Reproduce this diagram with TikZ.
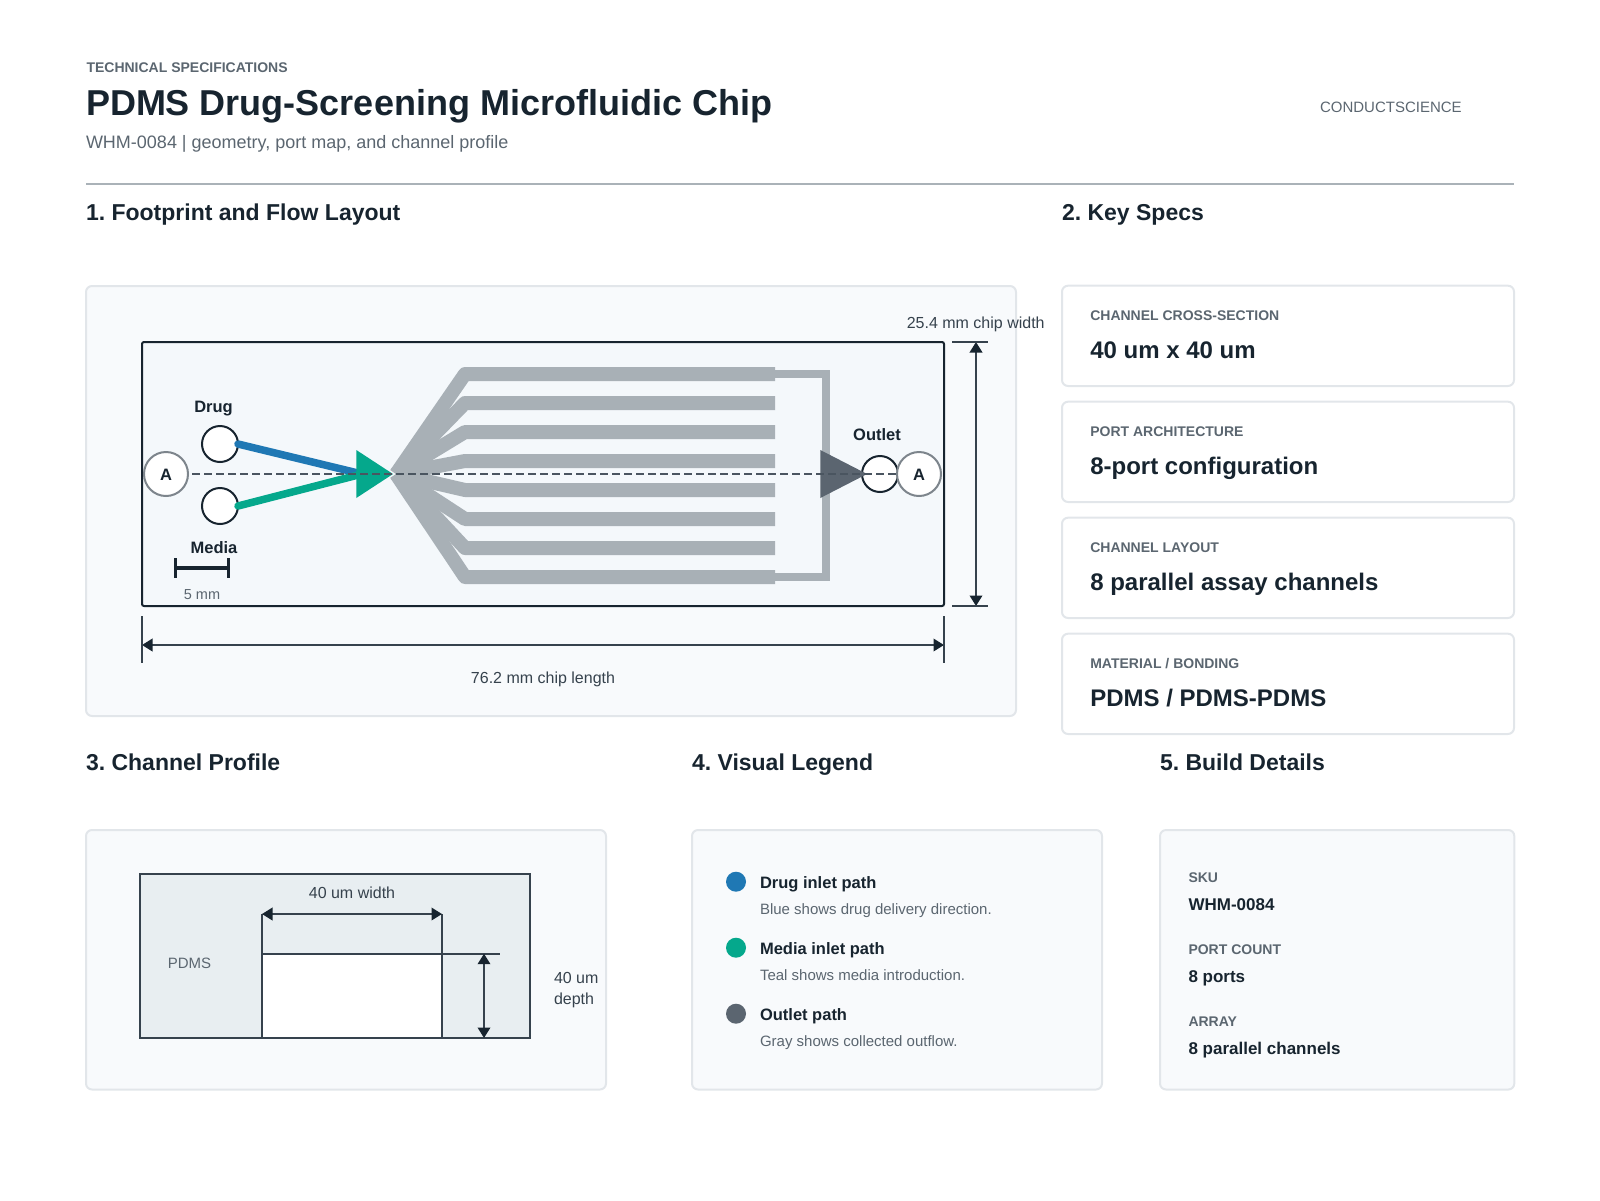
\documentclass[tikz,border=0pt]{standalone}
\usepackage{fontspec}
\setmainfont{Liberation Sans}
\frenchspacing
\usetikzlibrary{arrows.meta, positioning, calc}
\definecolor{colour_ink}{HTML}{17242F}
\definecolor{colour_dim}{HTML}{36424D}
\definecolor{colour_dash}{HTML}{4A5560}
\definecolor{colour_muted}{HTML}{5B6670}
\definecolor{colour_border}{HTML}{E2E6EA}
\definecolor{colour_panel}{HTML}{F8FAFC}
\definecolor{colour_chip}{HTML}{F4F8FB}
\definecolor{colour_pdms}{HTML}{E8EEF1}
\definecolor{colour_rule}{HTML}{AAB2B8}
\definecolor{colour_channel}{HTML}{A8B0B6}
\definecolor{colour_drug}{HTML}{1F78B4}
\definecolor{colour_media}{HTML}{05A88C}
\definecolor{colour_outlet}{HTML}{5B6570}
\definecolor{colour_section}{HTML}{7D858C}

\begin{document}
\begin{tikzpicture}
   [
      x=1pt, y=-1pt,
      every node/.style={inner sep=0pt, outer sep=0pt},
      panel/.style={draw=colour_border, fill=colour_panel, line width=2pt, rounded corners=6pt, anchor=north west},
      spec card/.style={draw=colour_border, fill=white, line width=2pt, rounded corners=6pt, minimum width=452pt, minimum height=100.3pt},
      spec label/.style={anchor=base west, text=colour_muted, font=\fontsize{14}{17}\selectfont\bfseries},
      spec value/.style={anchor=base west, text=colour_ink, font=\fontsize{24}{28}\selectfont\bfseries},
      section title/.style={anchor=base west, text=colour_ink, font=\fontsize{23}{28}\selectfont\bfseries},
      item title/.style={anchor=base west, text=colour_ink, font=\fontsize{16.5}{20}\selectfont\bfseries},
      item note/.style={anchor=base west, text=colour_muted, font=\fontsize{15}{18}\selectfont},
      build value/.style={anchor=base west, text=colour_ink, font=\fontsize{17}{20}\selectfont\bfseries},
      port label/.style={anchor=base, text=colour_ink, font=\fontsize{16.5}{20}\selectfont\bfseries},
      dim label/.style={anchor=base, text=colour_dim, font=\fontsize{16}{20}\selectfont},
      port/.style={circle, draw=colour_ink, fill=white, line width=2pt, minimum size=36pt},
      section mark/.style={circle, draw=colour_section, fill=white, line width=2pt, minimum size=44pt},
      channel/.style={line width=14pt, colour_channel, line join=round},
      bus/.style={line width=8pt, colour_channel, line join=miter},
      inlet/.style={line width=7.5pt, line cap=round},
      dim/.style={line width=2pt, colour_dim},
      dim arrow/.style={dim, {Triangle[length=10.5pt, width=12.5pt, color=colour_ink]}-{Triangle[length=10.5pt, width=12.5pt, color=colour_ink]}},
      legend dot/.style={circle, minimum size=20pt},
   ]

   \useasboundingbox (0,0) rectangle (1600,1200);

   % =======================================================
   % Header
   % =======================================================

   \node[spec label] (head_eyebrow) at (86.5,72) {TECHNICAL SPECIFICATIONS};
   \node[anchor=base west, text=colour_ink, font=\fontsize{36}{42}\selectfont\bfseries] (head_title) at (86,115.5) {PDMS Drug-Screening Microfluidic Chip};
   \node[anchor=base west, text=colour_muted, font=\fontsize{18}{22}\selectfont] (head_sub) at (86,148.3) {WHM-0084 | geometry, port map, and channel profile};
   \node[anchor=base west, text=colour_muted, font=\fontsize{15}{20}\selectfont] (head_brand) at (1320,112) {CONDUCTSCIENCE};

   \coordinate (rule_l) at (86,184);
   \coordinate (rule_r) at (1514,184);
   \draw[line width=2pt, colour_rule] (rule_l) -- (rule_r);

   % Section titles
   \node[section title] (title_layout) at (86,220) {1. Footprint and Flow Layout};
   \node[section title] (title_specs) at (1062,220) {2. Key Specs};
   \node[section title] (title_profile) at (86,770) {3. Channel Profile};
   \node[section title] (title_legend) at (692,770) {4. Visual Legend};
   \node[section title] (title_build) at (1160,770) {5. Build Details};

   % =======================================================
   % Panel 1: Footprint
   % =======================================================

   \node[panel, minimum width=930pt, minimum height=430pt] (panel_layout) at (86,286) {};
   \draw[line width=2pt, colour_ink, fill=colour_chip, rounded corners=2pt] (142,342) rectangle (944,606);

   % Channels
   \coordinate (fan) at (396,474);
   \draw[channel] (fan) -- (465,374) -- (775,374);
   \draw[channel] (fan) -- (465,403) -- (775,403);
   \draw[channel] (fan) -- (465,432) -- (775,432);
   \draw[channel] (fan) -- (465,461) -- (775,461);
   \draw[channel] (fan) -- (465,490) -- (775,490);
   \draw[channel] (fan) -- (465,519) -- (775,519);
   \draw[channel] (fan) -- (465,548) -- (775,548);
   \draw[channel] (fan) -- (465,577) -- (775,577);
   \draw[bus] (775,374) -- (826,374) -- (826,577) -- (775,577);

   % Ports
   \node[port] (port_drug) at (220,444) {};
   \node[port] (port_media) at (220,506) {};
   \node[port] (port_outlet) at (880,474) {};
   \coordinate (inlet_join) at (362,474);

   % Flow lines and arrows
   \draw[inlet, colour_drug] (port_drug.east) -- (inlet_join);
   \draw[inlet, colour_media] (port_media.east) -- (inlet_join);
   \fill[colour_media] (356.3,450) -- (393,474) -- (356.3,498) -- cycle;
   \fill[colour_outlet] (820.3,450) -- (867,474) -- (820.3,498) -- cycle;

   % Section line
   \node[section mark] (mark_l) at (166,474) {};
   \node[section mark] (mark_r) at (919,474) {};
   \node[port label] (mark_l_text) at (166,480) {A};
   \node[port label] (mark_r_text) at (919,480) {A};
   \draw[line width=1.5pt, colour_dash, dash pattern=on 8pt off 4pt, shorten <=4pt] (mark_l.east) -- (mark_r.west);

   % Port labels
   \node[port label] (label_drug) at (213.5,412) {Drug};
   \node[port label] (label_media) at (214,553) {Media};
   \node[port label] (label_outlet) at (877,440) {Outlet};

   % Scale bar
   \coordinate (scale_l) at (175.5,568);
   \coordinate (scale_r) at (228,568);
   \draw[line width=3.5pt, colour_ink] (scale_l) -- (scale_r);
   \draw[line width=3pt, colour_ink] ($(scale_l) + (0,-10)$) -- ($(scale_l) + (0,10)$);
   \draw[line width=3pt, colour_ink] ($(scale_r) + (0,-10)$) -- ($(scale_r) + (0,10)$);
   \node[anchor=base, text=colour_muted, font=\fontsize{14.5}{18}\selectfont] (label_scale) at (202,599) {5 mm};

   % Chip length
   \coordinate (len_l) at (142,645);
   \coordinate (len_r) at (944,645);
   \draw[dim arrow] (len_l) -- (len_r);
   \draw[dim] ($(len_l) + (0,-29)$) -- ($(len_l) + (0,18)$);
   \draw[dim] ($(len_r) + (0,-29)$) -- ($(len_r) + (0,18)$);
   \node[dim label] (label_len) at (543,683) {76.2 mm chip length};

   % Chip width
   \coordinate (wid_t) at (976,342);
   \coordinate (wid_b) at (976,606);
   \draw[dim arrow] (wid_t) -- (wid_b);
   \draw[dim] ($(wid_t) + (-24,0)$) -- ($(wid_t) + (12,0)$);
   \draw[dim] ($(wid_b) + (-24,0)$) -- ($(wid_b) + (12,0)$);
   \node[dim label] (label_wid) at (975.7,328) {25.4 mm chip width};

   % =======================================================
   % Panel 2: Key specs
   % =======================================================

   \node[spec card, anchor=north west] (card_cross) at (1062,285.7) {};
   \node[spec card, below=15.7pt of card_cross] (card_port) {};
   \node[spec card, below=15.7pt of card_port] (card_layout) {};
   \node[spec card, below=15.7pt of card_layout] (card_material) {};

   \node[spec label] (spec_cross) at ($(card_cross.north west) + (28.3,34.3)$) {CHANNEL CROSS-SECTION};
   \node[spec value] (value_cross) at ($(card_cross.north west) + (28.3,72.6)$) {40 um x 40 um};
   \node[spec label] (spec_port) at ($(card_port.north west) + (28.3,34.3)$) {PORT ARCHITECTURE};
   \node[spec value] (value_port) at ($(card_port.north west) + (28.3,72.6)$) {8-port configuration};
   \node[spec label] (spec_layout) at ($(card_layout.north west) + (28.3,34.3)$) {CHANNEL LAYOUT};
   \node[spec value] (value_layout) at ($(card_layout.north west) + (28.3,72.6)$) {8 parallel assay channels};
   \node[spec label] (spec_material) at ($(card_material.north west) + (28.3,34.3)$) {MATERIAL / BONDING};
   \node[spec value] (value_material) at ($(card_material.north west) + (28.3,72.6)$) {PDMS / PDMS-PDMS};

   % =======================================================
   % Panel 3: Channel profile
   % =======================================================

   \node[panel, minimum width=520pt, minimum height=259.5pt] (panel_profile) at (86,830) {};
   \draw[line width=2pt, colour_dim, fill=colour_pdms] (139.6,873.7) rectangle (530.4,1038);
   \draw[line width=2pt, colour_dim, fill=white] (262,953.7) rectangle (442,1038);

   \coordinate (cw_l) at (262,914);
   \coordinate (cw_r) at (442,914);
   \draw[dim] (cw_l) -- (262,953.7);
   \draw[dim] (cw_r) -- (442,953.7);
   \draw[dim arrow] (cw_l) -- (cw_r);
   \node[dim label] (label_cw) at (352,898) {40 um width};

   \coordinate (cd_t) at (484,953.7);
   \coordinate (cd_b) at (484,1038);
   \draw[dim] (442,953.7) -- (500,953.7);
   \draw[dim] (442,1038) -- (500,1038);
   \draw[dim arrow] (cd_t) -- (cd_b);
   \node[anchor=west, align=left, text=colour_dim, font=\fontsize{16}{21}\selectfont] (label_cd) at (554,990) {40 um\\depth};
   \node[anchor=base, text=colour_muted, font=\fontsize{15}{20}\selectfont] (label_pdms) at (189.5,968) {PDMS};

   % =======================================================
   % Panel 4: Legend
   % =======================================================

   \node[panel, minimum width=410pt, minimum height=259.5pt] (panel_legend) at (692,830) {};

   \node[legend dot, fill=colour_drug] (dot_drug) at (736,881.7) {};
   \node[item title] (item_drug) at (760,888) {Drug inlet path};
   \node[item note] (note_drug) at (760,914) {Blue shows drug delivery direction.};

   \node[legend dot, fill=colour_media] (dot_media) at (736,947.7) {};
   \node[item title] (item_media) at (760,954) {Media inlet path};
   \node[item note] (note_media) at (760,980) {Teal shows media introduction.};

   \node[legend dot, fill=colour_outlet] (dot_outlet) at (736,1013.7) {};
   \node[item title] (item_outlet) at (760,1020) {Outlet path};
   \node[item note] (note_outlet) at (760,1046) {Gray shows collected outflow.};

   % =======================================================
   % Panel 5: Build details
   % =======================================================

   \node[panel, minimum width=354.3pt, minimum height=259.5pt] (panel_build) at (1160,830) {};

   \node[spec label] (build_sku) at (1188.5,882) {SKU};
   \node[build value] (value_sku) at (1188.5,910) {WHM-0084};
   \node[spec label] (build_count) at (1188.5,954) {PORT COUNT};
   \node[build value] (value_count) at (1188.5,982) {8 ports};
   \node[spec label] (build_array) at (1188.5,1026) {ARRAY};
   \node[build value] (value_array) at (1188.5,1054) {8 parallel channels};

\end{tikzpicture}
\end{document}
